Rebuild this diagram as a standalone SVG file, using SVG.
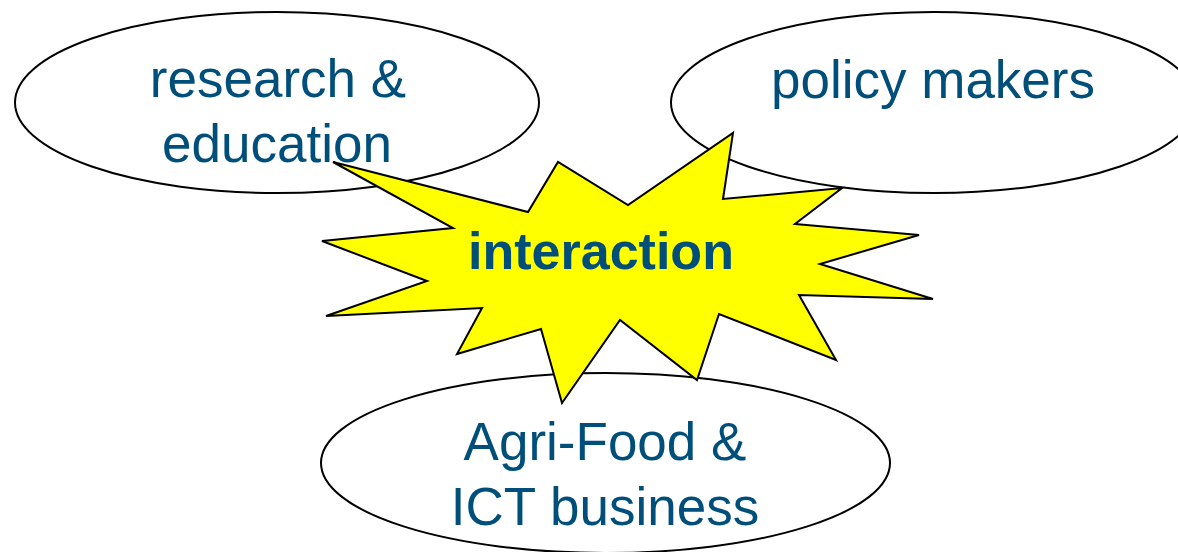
<svg xmlns="http://www.w3.org/2000/svg" width="1178" height="552" viewBox="0 0 1178 552">
<style>
.node ellipse{fill:#ffffff;stroke:#000000;stroke-width:2}
.lbl{font-family:"Liberation Sans",Arial,sans-serif;font-size:53px;fill:#004E7A;text-anchor:middle}
.bold{font-weight:bold;font-size:52px}
.star{fill:#FFFF00;stroke:#000000;stroke-width:2;stroke-linejoin:miter}
</style>
<rect width="1178" height="552" fill="#ffffff"/>
<g id="research" class="node">
<ellipse cx="277" cy="102.5" rx="262" ry="90.5"/>
<text class="lbl" x="278" y="97">research &amp;</text>
<text class="lbl" x="277" y="162">education</text>
</g>
<g id="policy" class="node">
<ellipse cx="934" cy="102.5" rx="263" ry="90.5"/>
<text class="lbl" x="933" y="98">policy makers</text>
</g>
<g id="business" class="node">
<ellipse cx="605.5" cy="463" rx="284.5" ry="90"/>
<text class="lbl" x="605" y="460">Agri-Food &amp;</text>
<text class="lbl" x="605" y="525">ICT business</text>
</g>
<g id="connectors"></g>
<g id="interaction">
<polygon class="star" points="333,162 528,212 558,162 628,205 733,133 723,199 842,188 795,224 919,235 820,264 933,299 799,295 836,360 719,314 697,380 620,320 562,403 541,329 457,354 482,308 326,316 427,281 322,241 453,228"/>
<text class="lbl bold" x="601" y="269">interaction</text>
</g>
</svg>
